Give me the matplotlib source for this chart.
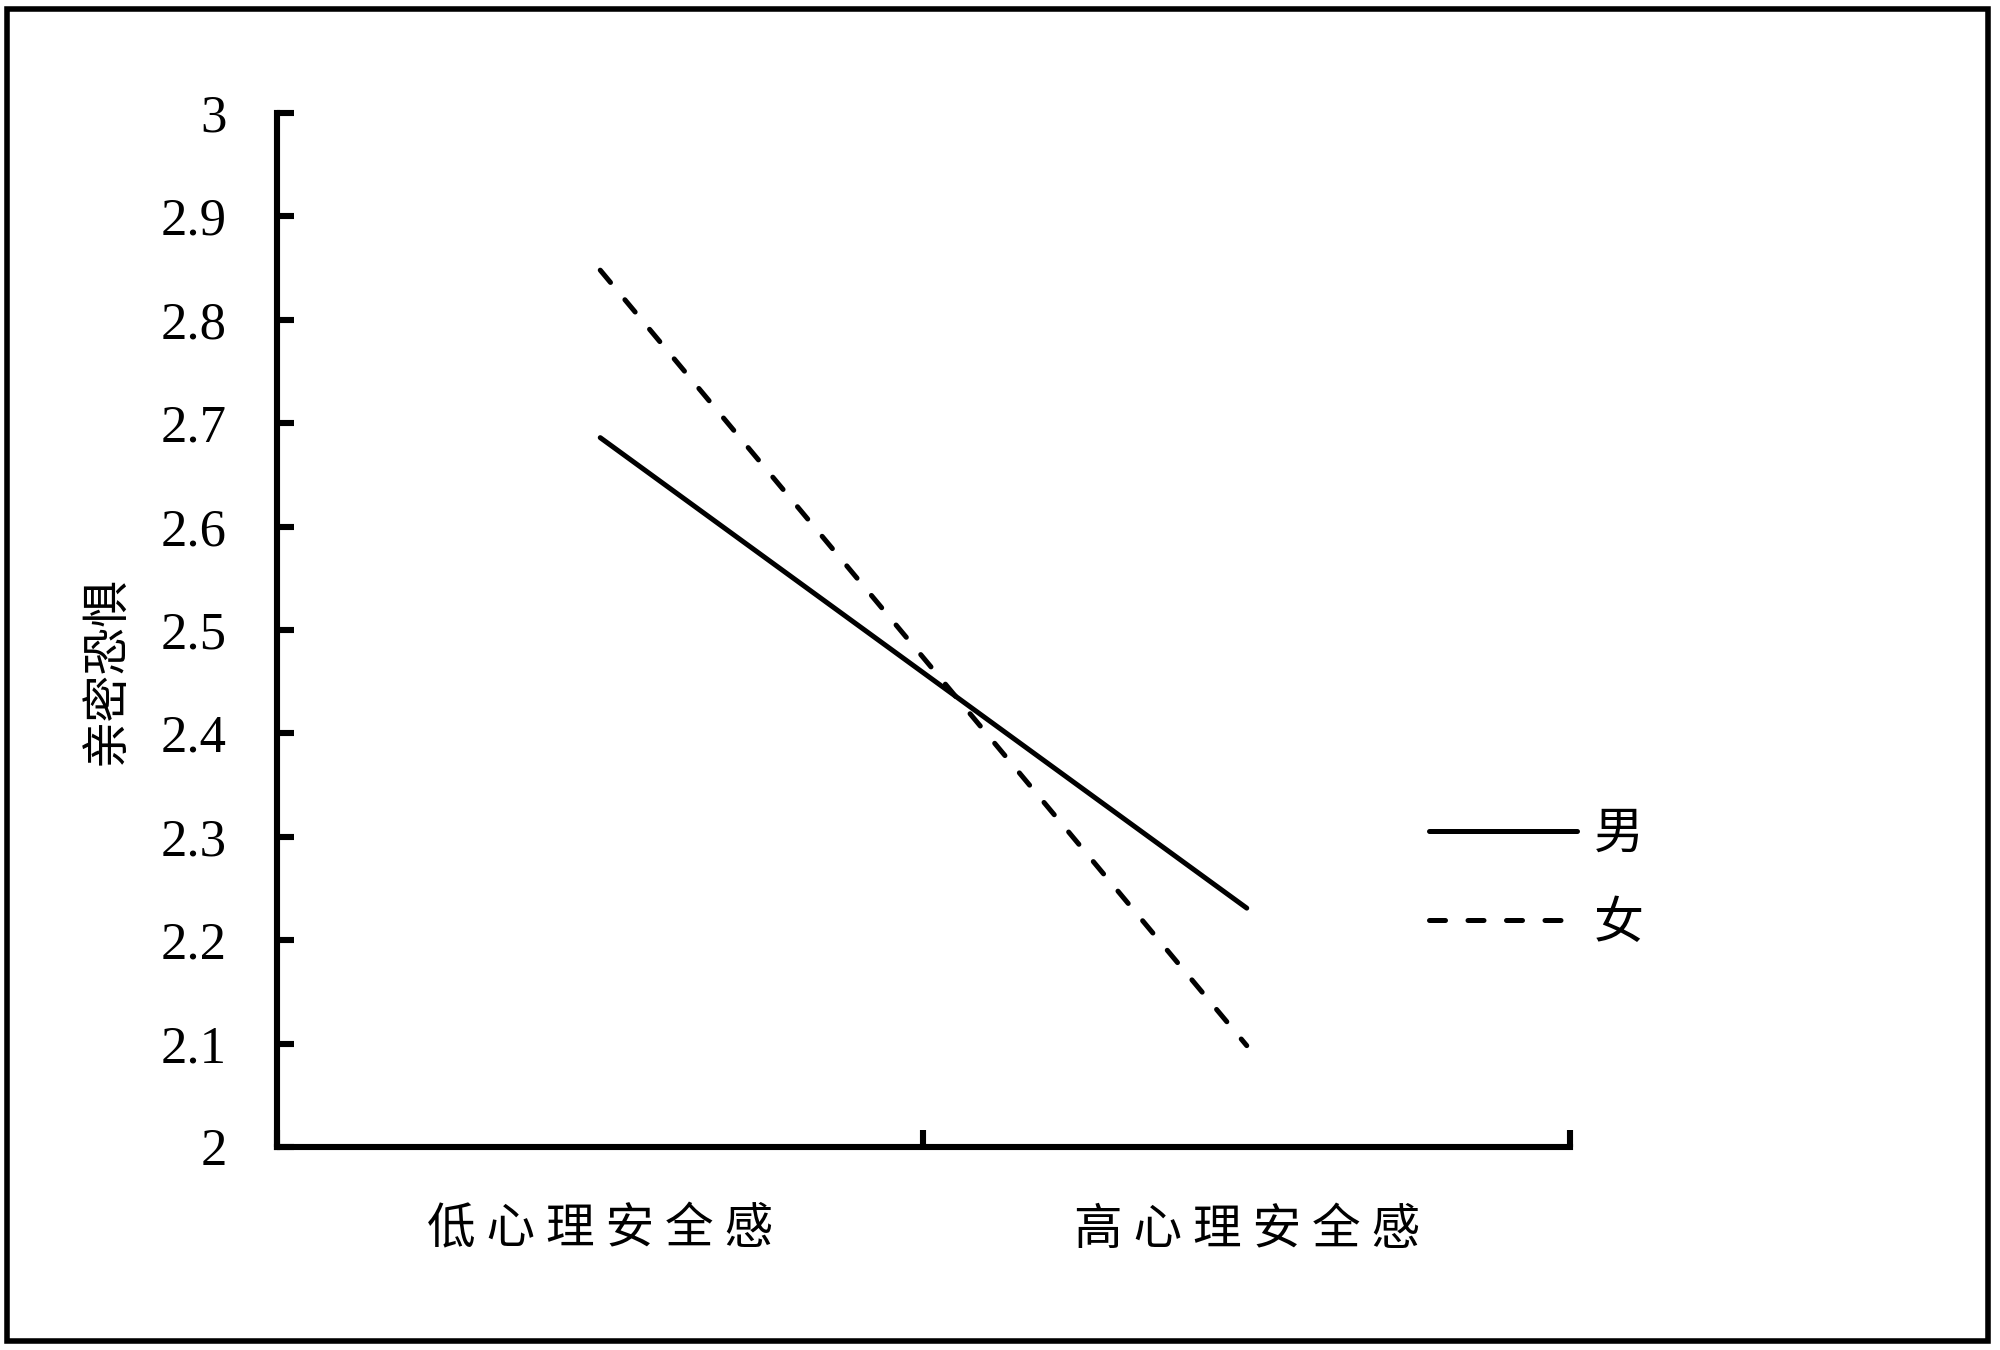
import matplotlib
matplotlib.use("Agg")
import matplotlib.pyplot as plt
from matplotlib.lines import Line2D

plt.rcParams['font.family'] = ['Liberation Serif', 'Noto Sans CJK SC', 'DejaVu Sans']

categories = ["低心理安全感", "高心理安全感"]
male = [2.686, 2.231]
female = [2.848, 2.098]
series_names = ["男", "女"]
yticks = [2, 2.1, 2.2, 2.3, 2.4, 2.5, 2.6, 2.7, 2.8, 2.9, 3]
ytick_labels = ["2", "2.1", "2.2", "2.3", "2.4", "2.5", "2.6", "2.7", "2.8", "2.9", "3"]
ylabel = "亲密恐惧"

fig = plt.figure(figsize=(10, 6.75), dpi=200)
ax = fig.add_axes([0.1385, 0.1504, 0.6465, 0.7659])

xpos = [0.5, 1.5]
lw = 1.8
dash = (3.2, 4.5)
ax.plot(xpos, male, color='black', lw=lw, solid_capstyle='round')
ax.plot(xpos, female, color='black', lw=lw, dashes=dash, dash_capstyle='round')

ax.set_xlim(0, 2)
ax.set_ylim(2, 3)
for s in ['top', 'right']:
    ax.spines[s].set_visible(False)
for s in ['left', 'bottom']:
    ax.spines[s].set_linewidth(2.2)

ax.set_yticks(yticks)
ax.set_yticklabels(ytick_labels, fontsize=19, family=['Liberation Serif'])
ax.tick_params(axis='y', direction='in', length=6, width=2.2, pad=18)

ax.set_xticks([0, 1, 2])
ax.set_xticklabels([])
ax.tick_params(axis='x', which='major', direction='in', length=6, width=2.2)
ax.set_xticks(xpos, minor=True)
ax.set_xticklabels([" ".join(c) for c in categories], minor=True,
                   fontsize=17.5, family=['Noto Sans CJK SC'])
ax.tick_params(axis='x', which='minor', length=0, pad=21)

ax.set_ylabel(ylabel, fontsize=17, family=['Noto Sans CJK SC'])
ax.yaxis.set_label_coords(-0.113, 0.461)

handles = [Line2D([0], [0], color='black', lw=lw, solid_capstyle='round'),
           Line2D([0], [0], color='black', lw=lw, dashes=dash, dash_capstyle='round')]
leg = fig.legend(handles, series_names, loc='center left',
                 bbox_to_anchor=(0.692, 0.349), frameon=False,
                 prop={'family': 'Noto Sans CJK SC', 'size': 18},
                 handlelength=2.95, handletextpad=0.35, labelspacing=0.75)

# outer frame
fig.patches.append(plt.Rectangle((0.0035, 0.0065), 0.9905, 0.9865, transform=fig.transFigure,
                                 fill=False, edgecolor='black', linewidth=2.0))

fig.savefig("out.png", dpi=200, facecolor='white')
